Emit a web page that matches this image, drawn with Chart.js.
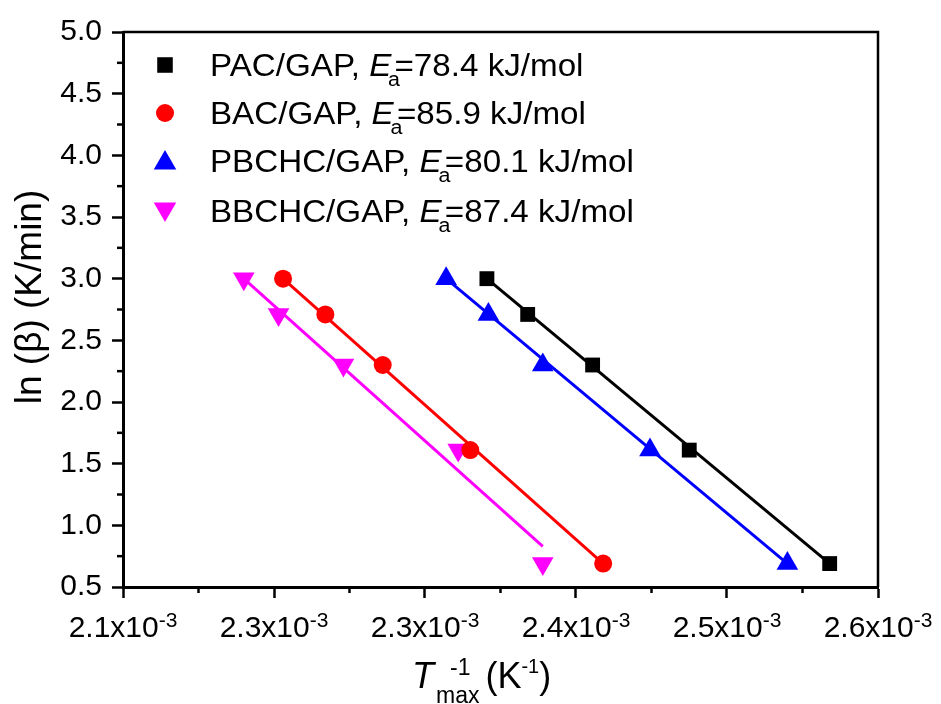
<!DOCTYPE html>
<html><head><meta charset="utf-8">
<script src="https://cdn.jsdelivr.net/npm/chart.js@4/dist/chart.umd.min.js"></script>
<style>html,body{margin:0;padding:0;background:#fff}#wrap{width:941px;height:704px;position:relative}</style>
</head><body><div id="wrap"><canvas id="c" width="941" height="704"></canvas></div>
<script>
// ---- data (x in units of 1e-3 K^-1, y = ln(beta)) ----
const seriesNames = ["PAC/GAP", "BAC/GAP", "PBCHC/GAP", "BBCHC/GAP"];
const eaValues = ["78.4", "85.9", "80.1", "87.4"];
const seriesColors = ["#000000", "#ff0000", "#0000ff", "#ff00ff"];
const lnBeta = [3.00, 2.71, 2.30, 1.61, 0.69];
const xPAC = [2.341, 2.368, 2.411, 2.475, 2.568];
const xBAC = [2.206, 2.234, 2.272, 2.330, 2.418];
const xPBCHC = [2.314, 2.342, 2.378, 2.449, 2.540];
const xBBCHC = [2.180, 2.203, 2.246, 2.322, 2.378];
const fitPAC = [[2.341, 3.00], [2.568, 0.69]];
const fitBAC = [[2.206, 3.00], [2.418, 0.69]];
const fitPBCHC = [[2.314, 3.00], [2.540, 0.69]];
const fitBBCHC = [[2.180, 3.00], [2.378, 0.83]];
const xTickValues = [2.1, 2.2, 2.3, 2.4, 2.5, 2.6];
const xTickMantissa = ["2.1", "2.3", "2.3", "2.4", "2.5", "2.6"];
const xTickExponent = "-3";
const yTickValues = [0.5, 1.0, 1.5, 2.0, 2.5, 3.0, 3.5, 4.0, 4.5, 5.0];
const yTitle = "ln (\u03b2) (K/min)";

const FONT = '"Liberation Sans", Arial, sans-serif';
const xs = [xPAC, xBAC, xPBCHC, xBBCHC];
const fits = [fitPAC, fitBAC, fitPBCHC, fitBBCHC];
const styles = [
  {pointStyle: 'rect', radius: 10.5, rotation: 0},
  {pointStyle: 'circle', radius: 9, rotation: 0},
  {pointStyle: 'triangle', radius: 12.5, rotation: 0},
  {pointStyle: 'triangle', radius: 12.5, rotation: 180}
];

const datasets = [];
xs.forEach((arr, s) => {
  datasets.push({
    label: seriesNames[s],
    data: arr.map((x, i) => ({x: x, y: lnBeta[i]})),
    showLine: false,
    pointStyle: styles[s].pointStyle,
    pointRadius: styles[s].radius,
    pointRotation: styles[s].rotation,
    pointBackgroundColor: seriesColors[s],
    pointBorderColor: seriesColors[s],
    pointBorderWidth: 0,
    clip: false
  });
});
fits.forEach((f, s) => {
  datasets.push({
    label: seriesNames[s] + ' fit',
    data: f.map(p => ({x: p[0], y: p[1]})),
    showLine: true,
    borderColor: seriesColors[s],
    borderWidth: 3,
    pointRadius: 0,
    fill: false
  });
});

function drawMarker(ctx, style, color, x, y) {
  ctx.save();
  ctx.fillStyle = color;
  ctx.beginPath();
  const r = style.radius;
  if (style.pointStyle === 'rect') {
    const h = r * Math.SQRT1_2;
    ctx.rect(x - h, y - h, 2 * h, 2 * h);
  } else if (style.pointStyle === 'circle') {
    ctx.arc(x, y, r, 0, Math.PI * 2);
  } else {
    const rot = style.rotation * Math.PI / 180;
    for (let k = 0; k < 3; k++) {
      const a = rot + k * 2 * Math.PI / 3;
      const px = x + Math.sin(a) * r, py = y - Math.cos(a) * r;
      if (k === 0) ctx.moveTo(px, py); else ctx.lineTo(px, py);
    }
    ctx.closePath();
  }
  ctx.fill();
  ctx.restore();
}

const decorPlugin = {
  id: 'decor',
  afterDraw(chart) {
    const ctx = chart.ctx;
    const a = chart.chartArea;
    const xS = chart.scales.x, yS = chart.scales.y;
    ctx.save();
    ctx.strokeStyle = '#000';
    // frame top & right
    ctx.lineWidth = 2.5;
    ctx.beginPath();
    ctx.moveTo(a.left, a.top); ctx.lineTo(a.right, a.top); ctx.lineTo(a.right, a.bottom);
    ctx.stroke();
    // minor ticks
    ctx.lineWidth = 2.5;
    for (let i = 0; i < xTickValues.length - 1; i++) {
      const px = xS.getPixelForValue((xTickValues[i] + xTickValues[i + 1]) / 2);
      ctx.beginPath(); ctx.moveTo(px, a.bottom); ctx.lineTo(px, a.bottom + 6); ctx.stroke();
    }
    for (let i = 0; i < yTickValues.length - 1; i++) {
      const py = yS.getPixelForValue((yTickValues[i] + yTickValues[i + 1]) / 2);
      ctx.beginPath(); ctx.moveTo(a.left, py); ctx.lineTo(a.left - 6, py); ctx.stroke();
    }
    // x tick labels with superscript
    ctx.fillStyle = '#000';
    ctx.textBaseline = 'alphabetic';
    ctx.textAlign = 'left';
    xTickValues.forEach((v, i) => {
      const px = xS.getPixelForValue(v);
      const main = xTickMantissa[i] + 'x10';
      ctx.font = '30px ' + FONT;
      const w1 = ctx.measureText(main).width;
      ctx.font = '21px ' + FONT;
      const w2 = ctx.measureText(xTickExponent).width;
      const x0 = px - (w1 + w2) / 2;
      ctx.font = '30px ' + FONT;
      ctx.fillText(main, x0, 637);
      ctx.font = '21px ' + FONT;
      ctx.fillText(xTickExponent, x0 + w1, 627);
    });
    // x title: T_max^-1 (K^-1)
    {
      const base = 688;
      let x = 412;
      ctx.font = 'italic 36px ' + FONT;
      ctx.fillText('T', x, base);
      x += ctx.measureText('T').width + 2;
      ctx.font = '23px ' + FONT;
      ctx.fillText('max', x, base + 15);
      const wMax = ctx.measureText('max').width;
      ctx.fillText('-1', x + 14, base - 13);
      x += wMax + 6;
      ctx.font = '36px ' + FONT;
      ctx.fillText('(K', x, base);
      x += ctx.measureText('(K').width;
      ctx.font = '20px ' + FONT;
      ctx.fillText('-1', x, base - 15);
      x += ctx.measureText('-1').width;
      ctx.font = '36px ' + FONT;
      ctx.fillText(')', x, base);
    }
    // y title
    ctx.save();
    ctx.translate(41, 297);
    ctx.rotate(-Math.PI / 2);
    ctx.font = '37px ' + FONT;
    ctx.textAlign = 'center';
    ctx.fillText(yTitle, 0, 0);
    ctx.restore();
    // legend
    const rowY = [65, 113, 161, 211];
    seriesNames.forEach((name, s) => {
      const cy = rowY[s];
      drawMarker(ctx, {pointStyle: styles[s].pointStyle, radius: styles[s].pointStyle === 'rect' ? 11 : (styles[s].pointStyle === 'circle' ? 9 : 13), rotation: styles[s].rotation}, seriesColors[s], 165, cy + (s >= 2 ? (s === 2 ? 2 : -2) : 0));
      const base = cy + 11;
      ctx.save();
      ctx.translate(210, base);
      ctx.scale(1.07, 1);
      ctx.textAlign = 'left';
      let x = 0;
      ctx.font = '31px ' + FONT;
      const t1 = name + ', ';
      ctx.fillText(t1, x, 0);
      x += ctx.measureText(t1).width;
      ctx.font = 'italic 31px ' + FONT;
      ctx.fillText('E', x, 0);
      const wE = ctx.measureText('E').width;
      ctx.font = '20px ' + FONT;
      ctx.fillText('a', x + wE - 3, 10);
      x += wE + 3;
      ctx.font = '31px ' + FONT;
      ctx.fillText('=' + eaValues[s] + ' kJ/mol', x, 0);
      ctx.restore();
    });
    ctx.restore();
  }
};

new Chart(document.getElementById('c'), {
  type: 'scatter',
  data: {datasets: datasets},
  options: {
    responsive: false,
    animation: false,
    events: [],
    layout: {padding: {top: 32, right: 63, left: 0, bottom: 0}},
    plugins: {legend: {display: false}, tooltip: {enabled: false}},
    scales: {
      x: {
        type: 'linear', min: 2.1, max: 2.6,
        afterBuildTicks: s => { s.ticks = xTickValues.map(v => ({value: v})); },
        afterFit: s => { s.height = 117; },
        ticks: {display: false},
        grid: {drawOnChartArea: false, drawTicks: true, tickLength: 11, tickWidth: 2.5, tickColor: '#000'},
        border: {display: true, width: 3, color: '#000'}
      },
      y: {
        type: 'linear', min: 0.5, max: 5.0,
        afterBuildTicks: s => { s.ticks = yTickValues.map(v => ({value: v})); },
        afterFit: s => { s.width = 123; },
        ticks: {color: '#000', font: {family: FONT, size: 30}, padding: 10,
                callback: v => v.toFixed(1)},
        grid: {drawOnChartArea: false, drawTicks: true, tickLength: 11, tickWidth: 2.5, tickColor: '#000'},
        border: {display: true, width: 3, color: '#000'}
      }
    }
  },
  plugins: [decorPlugin]
});
</script>
</body></html>
